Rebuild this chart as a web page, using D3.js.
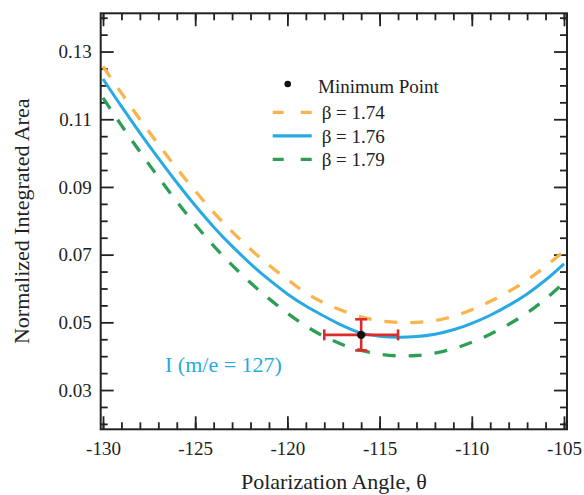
<!DOCTYPE html>
<html>
<head>
<meta charset="utf-8">
<script src="https://cdn.jsdelivr.net/npm/d3@7"></script>
<style>
  body { margin: 0; background: #fff; }
  svg text { font-family: "Liberation Serif", "Times New Roman", serif; fill: #222; }
</style>
</head>
<body>
<script>
// polarization angles (deg)
var angles = [-130, -129, -128, -127, -126, -125, -124, -123, -122, -121, -120, -119, -118,
              -117, -116, -115, -114, -113, -112, -111, -110, -109, -108, -107, -106, -105];
// normalized integrated area for each beta
var beta174 = [0.1256, 0.1177, 0.1100, 0.1026, 0.0955, 0.0888, 0.0825, 0.0768, 0.0716, 0.0669,
               0.0627, 0.0587, 0.0557, 0.0534, 0.0516, 0.0505, 0.0500, 0.0500, 0.0505, 0.0518,
               0.0537, 0.0562, 0.0591, 0.0625, 0.0665, 0.0711];
var beta176 = [0.1219, 0.1138, 0.1060, 0.0985, 0.0913, 0.0845, 0.0782, 0.0725, 0.0673, 0.0626,
               0.0584, 0.0548, 0.0518, 0.0490, 0.0468, 0.0459, 0.0456, 0.0458, 0.0465, 0.0478,
               0.0497, 0.0521, 0.0550, 0.0584, 0.0625, 0.0673];
var beta179 = [0.1163, 0.1082, 0.1004, 0.0929, 0.0857, 0.0789, 0.0726, 0.0669, 0.0617, 0.0570,
               0.0527, 0.0489, 0.0458, 0.0434, 0.0417, 0.0406, 0.0401, 0.0402, 0.0409, 0.0422,
               0.0441, 0.0465, 0.0494, 0.0528, 0.0569, 0.0617];
var seriesNames = ["\u03b2 = 1.74", "\u03b2 = 1.76", "\u03b2 = 1.79"];
// minimum point with error bars
var minPoint = {x: -116, y: 0.0463, xLo: -118, xHi: -114, yLo: 0.0417, yHi: 0.0509};

var xMajor = [-130, -125, -120, -115, -110, -105];
var xMinor = d3.range(-130, -104, 1);
var yMajor = [0.03, 0.05, 0.07, 0.09, 0.11, 0.13];
var yMinor = [0.02, 0.025, 0.035, 0.04, 0.045, 0.055, 0.06, 0.065, 0.075, 0.08, 0.085,
              0.095, 0.1, 0.105, 0.115, 0.12, 0.125, 0.135, 0.14];

var W = 584, H = 495;
var pL = 100.7, pR = 567, pT = 13.3, pB = 429.3;

var svg = d3.select("body").append("svg")
    .attr("width", W)
    .attr("height", H);

var x = d3.scaleLinear().domain([-130.125, -104.837]).range([pL, pR]);
var y = d3.scaleLinear().domain([0.0184, 0.1413]).range([pB, pT]);

// axes, ticks pointing inward on all four sides
function styleAxis(g) {
  g.select(".domain").remove();
  g.selectAll(".tick line").attr("stroke", "#222").attr("stroke-width", 1.8);
  g.selectAll(".tick text").style("font-size", "19px").attr("fill", "#222");
}

svg.append("g").attr("transform", "translate(0," + pB + ")")
  .call(d3.axisBottom(x).tickValues(xMinor).tickSize(-7).tickFormat(""))
  .call(styleAxis);
svg.append("g").attr("transform", "translate(0," + pB + ")")
  .call(d3.axisBottom(x).tickValues(xMajor).tickSize(-13).tickPadding(12)
        .tickFormat(function(d){ return String(d); }))
  .call(styleAxis);
svg.append("g").attr("transform", "translate(0," + pT + ")")
  .call(d3.axisTop(x).tickValues(xMinor).tickSize(-7).tickFormat(""))
  .call(styleAxis);
svg.append("g").attr("transform", "translate(0," + pT + ")")
  .call(d3.axisTop(x).tickValues(xMajor).tickSize(-13).tickFormat(""))
  .call(styleAxis);

svg.append("g").attr("transform", "translate(" + pL + ",0)")
  .call(d3.axisLeft(y).tickValues(yMinor).tickSize(-7).tickFormat(""))
  .call(styleAxis);
svg.append("g").attr("transform", "translate(" + pL + ",0)")
  .call(d3.axisLeft(y).tickValues(yMajor).tickSize(-13).tickPadding(9).tickFormat(d3.format(".2f")))
  .call(styleAxis);
svg.append("g").attr("transform", "translate(" + pR + ",0)")
  .call(d3.axisRight(y).tickValues(yMinor).tickSize(-7).tickFormat(""))
  .call(styleAxis);
svg.append("g").attr("transform", "translate(" + pR + ",0)")
  .call(d3.axisRight(y).tickValues(yMajor).tickSize(-13).tickFormat(""))
  .call(styleAxis);

// frame
svg.append("rect")
  .attr("x", pL).attr("y", pT)
  .attr("width", pR - pL).attr("height", pB - pT)
  .attr("fill", "none").attr("stroke", "#222").attr("stroke-width", 2);

// curves
var line = d3.line()
  .x(function(d){ return x(d[0]); })
  .y(function(d){ return y(d[1]); })
  .curve(d3.curveCatmullRom);

var series = [
  {vals: beta174, color: "#F9B44B", dash: "13,13"},
  {vals: beta176, color: "#27AAE1", dash: null},
  {vals: beta179, color: "#2E9E55", dash: "13,13"}
];

series.forEach(function(s) {
  svg.append("path")
    .datum(angles.map(function(a, i){ return [a, s.vals[i]]; }))
    .attr("d", line)
    .attr("fill", "none")
    .attr("stroke", s.color)
    .attr("stroke-width", s.dash ? 3.3 : 3)
    .attr("stroke-dasharray", s.dash);
});

// minimum point + error bars
var red = "#DC2B2B";
var eb = svg.append("g").attr("stroke", red).attr("stroke-width", 2.6);
eb.append("line").attr("x1", x(minPoint.xLo)).attr("x2", x(minPoint.xHi))
  .attr("y1", y(minPoint.y)).attr("y2", y(minPoint.y));
eb.append("line").attr("x1", x(minPoint.x)).attr("x2", x(minPoint.x))
  .attr("y1", y(minPoint.yLo)).attr("y2", y(minPoint.yHi));
[minPoint.xLo, minPoint.xHi].forEach(function(v) {
  eb.append("line").attr("x1", x(v)).attr("x2", x(v))
    .attr("y1", y(minPoint.y) - 5.5).attr("y2", y(minPoint.y) + 5.5);
});
[minPoint.yLo, minPoint.yHi].forEach(function(v) {
  eb.append("line").attr("x1", x(minPoint.x) - 6).attr("x2", x(minPoint.x) + 6)
    .attr("y1", y(v)).attr("y2", y(v));
});
svg.append("circle")
  .attr("cx", x(minPoint.x)).attr("cy", y(minPoint.y))
  .attr("r", 4.2).attr("fill", "#111");

// legend
var lg = svg.append("g");
lg.append("circle").attr("cx", 287.7).attr("cy", 84).attr("r", 3.3).attr("fill", "#111");
lg.append("text").attr("x", 318).attr("y", 93).style("font-size", "19px").text("Minimum Point");
series.forEach(function(s, i) {
  var yy = 112.3 + i * 23.5;
  lg.append("line")
    .attr("x1", 272.7).attr("x2", 311.7).attr("y1", yy).attr("y2", yy)
    .attr("stroke", s.color).attr("stroke-width", 3.3)
    .attr("stroke-dasharray", s.dash ? "11,17" : null);
  lg.append("text").attr("x", 321.7).attr("y", yy + 6.8)
    .style("font-size", "19px").text(seriesNames[i]);
});

// annotation
svg.append("text")
  .attr("x", 165).attr("y", 371.5)
  .style("font-size", "22px")
  .style("fill", "#27AAE1")
  .text("I (m/e = 127)");

// axis titles
svg.append("text")
  .attr("x", (pL + pR) / 2).attr("y", 489)
  .attr("text-anchor", "middle")
  .style("font-size", "22px")
  .text("Polarization Angle, \u03b8");
svg.append("text")
  .attr("transform", "translate(29," + ((pT + pB) / 2) + ") rotate(-90)")
  .attr("text-anchor", "middle")
  .style("font-size", "22px")
  .text("Normalized Integrated Area");
</script>
</body>
</html>
